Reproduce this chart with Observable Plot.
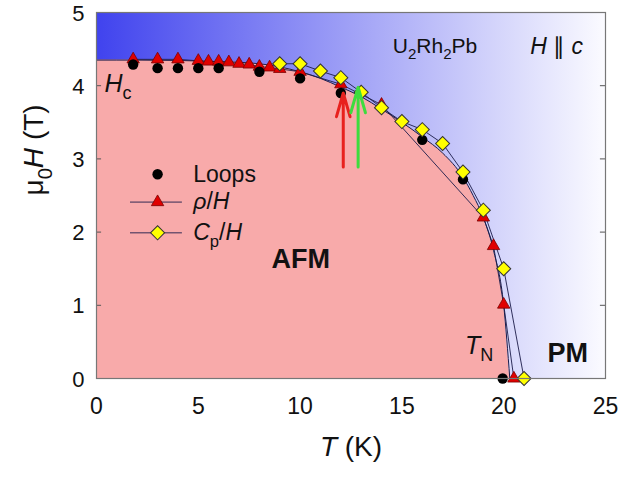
<!DOCTYPE html>
<html><head><meta charset="utf-8">
<script src="https://cdn.jsdelivr.net/npm/d3@7"></script>
<script src="https://cdn.jsdelivr.net/npm/@observablehq/plot@0.6"></script>
<style>body{margin:0;background:#fff}</style>
</head><body><div id="chart"></div>
<script>
// ---- data ----
const loopsT = [1.8, 3, 4, 5, 6, 8, 10, 12, 16, 18, 19.95];
const loopsH = [4.29, 4.24, 4.24, 4.24, 4.24, 4.19, 4.10, 3.90, 3.26, 2.72, 0];

const rhoT = [1.8, 3, 4, 5, 5.5, 6, 6.5, 7, 7.5, 8, 8.5, 9, 10, 12, 14, 19, 19.5, 20, 20.5];
const rhoH = [4.36, 4.36, 4.36, 4.34, 4.33, 4.33, 4.32, 4.30, 4.29, 4.26, 4.25, 4.23, 4.19, 4.02, 3.74, 2.20, 1.81, 1.01, 0];

const cpT = [9, 10, 11, 12, 13, 14, 15, 16, 17, 18, 19, 20, 21];
const cpH = [4.30, 4.30, 4.20, 4.11, 3.91, 3.70, 3.51, 3.40, 3.21, 2.82, 2.30, 1.50, 0];

// phase boundary separating AFM (pink) and PM
const boundaryT = [0, 2, 6, 8, 10, 11, 12, 13, 14, 15, 16, 17, 18, 18.5, 19, 19.5, 20, 20.3];
const boundaryH = [4.35, 4.35, 4.33, 4.30, 4.19, 4.10, 3.98, 3.85, 3.68, 3.50, 3.30, 3.08, 2.75, 2.50, 2.20, 1.75, 1.00, 0];

// arrows (T position, start H, end H)
const arrowT = [12.12, 12.85];
const arrowH1 = [2.89, 2.89];
const arrowH2 = [3.90, 3.98];
const arrowColors = ["#e8211e", "#3edc3e"];

const xTicks = [0, 5, 10, 15, 20, 25];
const yTicks = [0, 1, 2, 3, 4, 5];

const legendLabels = ["Loops", "ρ/H", "Cp/H"];
const legendH = [2.79, 2.41, 1.99];

// ---- build tables ----
const zip = (X, Y) => X.map((x, i) => ({T: x, H: Y[i]}));
const loops = zip(loopsT, loopsH);
const rho = zip(rhoT, rhoH);
const cp = zip(cpT, cpH);
const boundary = zip(boundaryT, boundaryH);
const arrows = arrowT.map((t, i) => ({T: t, H1: arrowH1[i], H2: arrowH2[i], c: arrowColors[i]}));

const annotations = [
  {T: 0.39, H: 4.03, text: "Hc", size: 25, weight: "normal"},
  {T: 14.55, H: 4.54, text: "U2Rh2Pb", size: 21, weight: "normal"},
  {T: 21.3, H: 4.54, text: "H ∥ c", size: 23, weight: "normal"},
  {T: 8.6, H: 1.63, text: "AFM", size: 27, weight: "bold"},
  {T: 22.15, H: 0.345, text: "PM", size: 27, weight: "bold"},
  {T: 18.1, H: 0.45, text: "TN", size: 25, weight: "normal"}
];

const pink = "#f8aaaa";
const lineCol = "#1c1c4a";

const marks = [
  Plot.frame({fill: "url(#bggrad)"}),
  Plot.areaY(boundary, {x: "T", y: "H", fill: pink, curve: "monotone-x"}),
  Plot.line(boundary, {x: "T", y: "H", stroke: lineCol, strokeWidth: 1, curve: "monotone-x"}),
  Plot.line(rho, {x: "T", y: "H", stroke: lineCol, strokeWidth: 0.9}),
  Plot.line(cp, {x: "T", y: "H", stroke: lineCol, strokeWidth: 0.9}),
  Plot.dot(rho, {x: "T", y: "H", symbol: "triangle", r: 4.6, fill: "#e00000", stroke: "#7a0000", strokeWidth: 0.8}),
  Plot.dot(loops, {x: "T", y: "H", r: 5.2, fill: "#000", stroke: "none"}),
  Plot.dot(cp, {x: "T", y: "H", symbol: "square", rotate: 45, r: 5.6, fill: "#ffff00", stroke: "#333", strokeWidth: 1}),
  Plot.arrow(arrows, {x1: "T", x2: "T", y1: "H1", y2: "H2", stroke: "c", strokeWidth: 3, headLength: 20, headAngle: 32}),
  // inward ticks on left and right
  Plot.ruleY(yTicks.slice(1, -1), {x1: 0, x2: 0.25, stroke: "#555"}),
  Plot.ruleY(yTicks.slice(1, -1), {x1: 24.75, x2: 25, stroke: "#555"}),
  Plot.frame({stroke: "#777", strokeWidth: 1.2}),
  // legend
  Plot.dot([legendH[0]], {x: 3.0, y: d => d, r: 5.2, fill: "#000"}),
  Plot.ruleY([legendH[1], legendH[2]], {x1: 1.67, x2: 4.22, stroke: lineCol, strokeWidth: 0.9}),
  Plot.dot([legendH[1]], {x: 3.0, y: d => d, symbol: "triangle", r: 4.6, fill: "#e00000", stroke: "#7a0000", strokeWidth: 0.8}),
  Plot.dot([legendH[2]], {x: 3.0, y: d => d, symbol: "square", rotate: 45, r: 5.6, fill: "#ffff00", stroke: "#333", strokeWidth: 1}),
  Plot.text(legendLabels, {x: 4.75, y: (d, i) => legendH[i], text: d => d, textAnchor: "start", fontSize: 23, fill: "#111"}),
  // annotations
  ...annotations.map(a => Plot.text([a], {x: "T", y: "H", text: "text", textAnchor: "start", fontSize: a.size, fontWeight: a.weight, fill: "#111"})),
  // axes
  Plot.axisX({ticks: xTicks, tickSize: 0, tickPadding: 19, label: null, fontSize: 23, tickFormat: d3.format("d")}),
  Plot.axisY({ticks: yTicks, tickSize: 0, tickPadding: 12, label: null, fontSize: 22, dy: 1, tickFormat: d3.format("d")}),
  Plot.text(["T (K)"], {frameAnchor: "bottom", dy: 77, fontSize: 28, fill: "#111"}),
  Plot.text(["μ0H (T)"], {frameAnchor: "left", dx: -62, rotate: -90, fontSize: 28, fill: "#111"})
];

const chart = Plot.plot({
  width: 622,
  height: 477,
  marginLeft: 96,
  marginRight: 17,
  marginTop: 12,
  marginBottom: 99,
  x: {domain: [0, 25]},
  y: {domain: [0, 5]},
  style: {fontFamily: "'Liberation Sans', Arial, sans-serif", fontSize: "20px", color: "#111", background: "#fff", overflow: "visible"},
  marks
});

// gradient definition for the background
const NS = "http://www.w3.org/2000/svg";
const defs = document.createElementNS(NS, "defs");
const grad = document.createElementNS(NS, "linearGradient");
grad.setAttribute("id", "bggrad");
grad.setAttribute("x1", "0"); grad.setAttribute("x2", "1");
grad.setAttribute("y1", "0"); grad.setAttribute("y2", "0");
[["0%", "#4043ee"], ["55%", "#a9aaf7"], ["100%", "#fbfbff"]].forEach(([o, c]) => {
  const s = document.createElementNS(NS, "stop");
  s.setAttribute("offset", o); s.setAttribute("stop-color", c);
  grad.appendChild(s);
});
defs.appendChild(grad);
chart.insertBefore(defs, chart.firstChild);

document.getElementById("chart").appendChild(chart);

// rich text: italics and subscripts
const richMap = {
  "T (K)": [["T", "i"], [" (K)", ""]],
  "μ0H (T)": [["μ", ""], ["0", "sub"], ["H", "i"], [" (T)", ""]],
  "Hc": [["H", "i"], ["c", "sub"]],
  "TN": [["T", "i"], ["N", "sub"]],
  "U2Rh2Pb": [["U", ""], ["2", "sub"], ["Rh", ""], ["2", "sub"], ["Pb", ""]],
  "H ∥ c": [["H", "i"], [" ∥ ", ""], ["c", "i"]],
  "ρ/H": [["ρ", "i"], ["/", ""], ["H", "i"]],
  "Cp/H": [["C", "i"], ["p", "sub"], ["/", ""], ["H", "i"]]
};
chart.querySelectorAll("text").forEach(t => {
  const parts = richMap[t.textContent];
  if (!parts) return;
  const fs = parseFloat(getComputedStyle(t).fontSize) || 20;
  while (t.firstChild) t.removeChild(t.firstChild);
  let shift = 0;
  for (const [s, st] of parts) {
    const sp = document.createElementNS(NS, "tspan");
    sp.textContent = s;
    const target = st === "sub" ? fs * 0.3 : 0;
    if (target !== shift) { sp.setAttribute("dy", (target - shift).toFixed(2)); shift = target; }
    if (st === "sub") sp.setAttribute("font-size", (fs * 0.72).toFixed(1));
    if (st === "i") sp.setAttribute("font-style", "italic");
    t.appendChild(sp);
  }
});
</script></body></html>
